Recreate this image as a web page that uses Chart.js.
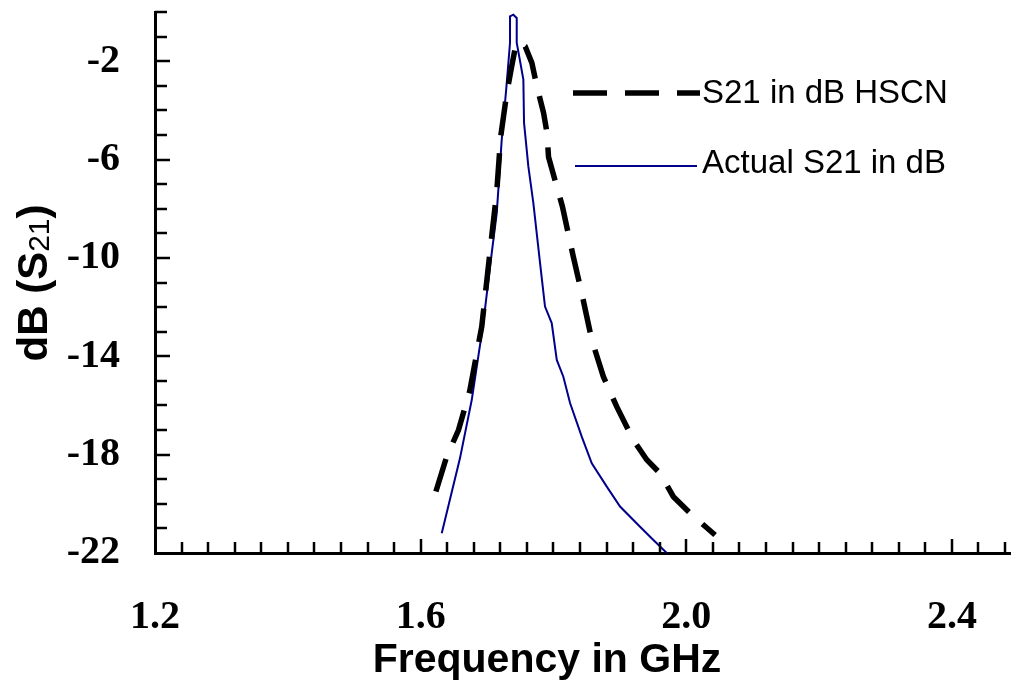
<!DOCTYPE html>
<html>
<head>
<meta charset="utf-8">
<script src="https://cdn.jsdelivr.net/npm/chart.js@4/dist/chart.umd.min.js"></script>
<style>
html,body{margin:0;padding:0;background:#fff;}
#wrap{width:1011px;height:692px;position:relative;}
</style>
</head>
<body>
<div id="wrap"><canvas id="c" width="1011" height="692"></canvas></div>
<script>
// ---- data ----
const seriesLabels = ['S21 in dB HSCN', 'Actual S21 in dB'];

const hscnFreq = [1.623, 1.639, 1.657, 1.674, 1.692, 1.702, 1.7146, 1.7206, 1.7297, 1.7372, 1.7422, 1.7472,
  1.7575, 1.7675, 1.7751, 1.7851, 1.7902, 1.7926, 1.8134, 1.8298, 1.8426, 1.8577, 1.8752, 1.8953,
  1.9203, 1.9405, 1.9605, 1.9806, 2.0057, 2.0434];
const hscnDb = [-19.5, -18.1, -17.0, -15.4, -12.8, -10.35, -7.3, -5.06, -3.3, -2.2, -1.5, -1.2,
  -1.4, -2.07, -3.03, -4.1, -4.9, -5.9, -7.9, -9.94, -11.43, -13.33, -14.83, -16.05,
  -17.4, -18.21, -18.76, -19.71, -20.38, -21.27];

const actualFreq = [1.6318, 1.6593, 1.6770, 1.6944, 1.7045, 1.7146, 1.7221, 1.7297, 1.7346, 1.7346, 1.7396,
  1.7447, 1.7447, 1.7547, 1.7557, 1.7622, 1.7697, 1.7798, 1.7873, 1.7974, 1.8050, 1.8149, 1.8250,
  1.8426, 1.8577, 1.8803, 1.9003, 1.9304, 1.9505, 1.9706];
const actualDb = [-21.2, -18.14, -15.77, -12.65, -10.35, -8.18, -5.2, -2.88, -1.25, -0.18, -0.11,
  -0.24, -1.25, -2.75, -4.5, -6.28, -7.76, -10.2, -11.98, -12.65, -14.15, -14.83, -15.9,
  -17.27, -18.35, -19.3, -20.11, -20.93, -21.47, -22.0];

const xTickLabels = ['1.2', '1.6', '2.0', '2.4'];
const yTickLabels = ['-2', '-6', '-10', '-14', '-18', '-22'];
const xTitle = 'Frequency in GHz';
const yTitleParts = ['dB (S', '21', ')'];

// ---- build points ----
const hscnPts = hscnFreq.map((f, i) => ({x: f, y: hscnDb[i]}));
const actualPts = actualFreq.map((f, i) => ({x: f, y: actualDb[i]}));

const SERIF = '"Liberation Serif", "Times New Roman", serif';
const SANS = '"Liberation Sans", Arial, sans-serif';

function noPad(s) { s.paddingTop = 0; s.paddingBottom = 0; s.paddingLeft = 0; s.paddingRight = 0; }

const inTicks = {
  id: 'inTicks',
  afterDraw(chart) {
    const ctx = chart.ctx;
    const xs = chart.scales.x, ys = chart.scales.y;
    const area = chart.chartArea;
    ctx.save();
    ctx.strokeStyle = '#000';
    ctx.lineWidth = 2.5;
    ctx.beginPath();
    xs.ticks.forEach(t => {
      const px = Math.round(xs.getPixelForValue(t.value));
      if (Math.abs(px - area.left) < 3) return;
      const major = xTickLabels.some(l => Math.abs(parseFloat(l) - t.value) < 1e-6);
      const len = major ? 14 : 11;
      ctx.moveTo(px, area.bottom);
      ctx.lineTo(px, area.bottom - len);
    });
    ys.ticks.forEach(t => {
      const py = Math.round(ys.getPixelForValue(t.value));
      if (Math.abs(py - area.bottom) < 3) return;
      const major = yTickLabels.some(l => Math.abs(parseFloat(l) - t.value) < 1e-6);
      const len = major ? 15 : 12;
      ctx.moveTo(area.left, py);
      ctx.lineTo(area.left + len, py);
    });
    ctx.stroke();

    // axis titles
    ctx.fillStyle = '#000';
    ctx.font = 'bold 41px ' + SANS;
    ctx.textAlign = 'center';
    ctx.textBaseline = 'alphabetic';
    ctx.fillText(xTitle, 547, 672);

    ctx.translate(47, 283);
    ctx.rotate(-Math.PI / 2);
    ctx.textAlign = 'left';
    const fBig = 'bold 42px ' + SANS;
    const fSmall = '30px ' + SANS;
    ctx.font = fBig; const w0 = ctx.measureText(yTitleParts[0]).width;
    ctx.font = fSmall; const w1 = ctx.measureText(yTitleParts[1]).width;
    ctx.font = fBig; const w2 = ctx.measureText(yTitleParts[2]).width;
    let x0 = -(w0 + w1 + w2) / 2;
    ctx.font = fBig; ctx.fillText(yTitleParts[0], x0, 0);
    ctx.font = fSmall; ctx.fillText(yTitleParts[1], x0 + w0, 2);
    ctx.font = fBig; ctx.fillText(yTitleParts[2], x0 + w0 + w1, 0);
    ctx.restore();

    // legend
    ctx.save();
    const ds = chart.data.datasets;
    const rows = [{y: 93, ty: 103, x1: 573, x2: 700}, {y: 166, ty: 173, x1: 575, x2: 697}];
    ds.forEach((d, i) => {
      const r = rows[i];
      ctx.strokeStyle = d.borderColor;
      ctx.lineWidth = d.borderWidth;
      ctx.setLineDash(d.borderDash || []);
      ctx.beginPath();
      ctx.moveTo(r.x1, r.y);
      ctx.lineTo(r.x2, r.y);
      ctx.stroke();
      ctx.setLineDash([]);
      ctx.fillStyle = '#000';
      ctx.font = '33px ' + SANS;
      ctx.textAlign = 'left';
      ctx.textBaseline = 'alphabetic';
      ctx.fillText(d.label, 702, r.ty);
    });
    ctx.restore();
  }
};

new Chart(document.getElementById('c'), {
  type: 'line',
  data: {
    datasets: [
      {label: seriesLabels[0], data: hscnPts, borderColor: '#000000', borderWidth: 5.5,
       borderDash: [34, 18], pointRadius: 0, tension: 0, fill: false},
      {label: seriesLabels[1], data: actualPts, borderColor: '#00008B', borderWidth: 2,
       pointRadius: 0, tension: 0, fill: false}
    ]
  },
  options: {
    responsive: false,
    animation: false,
    devicePixelRatio: 1,
    layout: {padding: {top: 12, right: 0, left: 0, bottom: 0}},
    plugins: {legend: {display: false}, tooltip: {enabled: false}},
    scales: {
      x: {
        type: 'linear', min: 1.2, max: 2.489,
        afterFit(s) { s.height = 139; noPad(s); },
        border: {display: true, color: '#000', width: 3},
        grid: {display: false},
        ticks: {
          stepSize: 0.04, autoSkip: false, maxRotation: 0, includeBounds: false, padding: 33,
          color: '#000', font: {family: SERIF, weight: 'bold', size: 40},
          callback: v => xTickLabels.find(l => Math.abs(parseFloat(l) - v) < 1e-6) || ''
        }
      },
      y: {
        type: 'linear', min: -22, max: 0,
        afterFit(s) { s.width = 155; noPad(s); },
        border: {display: true, color: '#000', width: 3},
        grid: {display: false},
        ticks: {
          stepSize: 1, autoSkip: false, padding: 27,
          color: '#000', font: {family: SERIF, weight: 'bold', size: 40},
          callback: v => yTickLabels.find(l => Math.abs(parseFloat(l) - v) < 1e-6) || ''
        }
      }
    }
  },
  plugins: [inTicks]
});
</script>
</body>
</html>
